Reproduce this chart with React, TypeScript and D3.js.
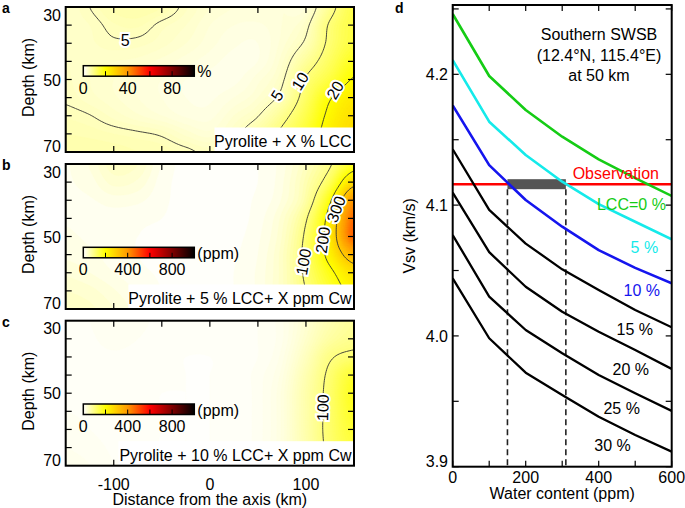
import React, { useMemo } from "react";
import * as d3 from "d3";

// ---------------- Data ----------------
const distanceKm = [-150, -125, -100, -75, -50, -25, 0, 25, 50, 75, 100, 125, 150];
const depthKm = [30, 35, 40, 45, 50, 55, 60, 65, 70];

// Panel a: LCC fraction (%)
const lccPercent = [
  [4.0, 5.0, 6.2, 6.5, 6.0, 4.6, 3.5, 3.0, 3.0, 3.0, 3.0, 8.5, 14.0],
  [4.2, 4.5, 5.4, 5.6, 4.7, 4.0, 3.0, 2.5, 2.4, 3.0, 4.4, 10.5, 14.5],
  [4.3, 4.4, 4.8, 4.7, 4.2, 3.5, 2.7, 2.1, 2.0, 3.2, 5.5, 11.0, 15.0],
  [4.5, 4.2, 4.0, 3.8, 3.3, 2.7, 2.2, 1.8, 2.0, 3.8, 7.8, 12.5, 17.5],
  [4.6, 4.0, 3.5, 3.0, 2.5, 2.0, 1.8, 1.8, 2.8, 4.6, 10.4, 15.0, 20.5],
  [4.8, 4.2, 3.6, 3.0, 2.5, 2.0, 1.9, 2.5, 3.5, 5.8, 12.0, 19.5, 24.0],
  [5.4, 5.05, 4.3, 3.6, 3.0, 2.4, 2.3, 3.5, 4.9, 8.5, 14.0, 21.5, 26.0],
  [6.0, 5.8, 5.5, 5.2, 4.8, 3.8, 3.2, 4.5, 7.0, 11.0, 16.0, 23.0, 27.0],
  [6.5, 6.5, 6.3, 6.0, 5.8, 5.3, 4.8, 6.0, 8.5, 13.0, 18.0, 25.0, 28.0],
];

// Panel b: water content (ppm), pyrolite + 5 % LCC
const waterLcc5 = [
  [15, 25, 45, 40, 15, 5, 5, 5, 8, 20, 50, 95, 170],
  [15, 20, 35, 30, 12, 5, 5, 5, 8, 22, 60, 130, 270],
  [15, 15, 20, 18, 10, 5, 5, 5, 10, 25, 70, 190, 400],
  [15, 12, 12, 10, 8, 5, 5, 5, 12, 35, 95, 230, 460],
  [18, 14, 10, 8, 6, 5, 5, 6, 14, 40, 110, 240, 470],
  [22, 18, 12, 8, 6, 5, 5, 7, 16, 45, 115, 225, 350],
  [30, 24, 16, 10, 7, 5, 5, 8, 18, 45, 110, 185, 260],
  [40, 35, 25, 15, 8, 6, 6, 8, 18, 45, 100, 160, 220],
  [45, 42, 32, 20, 10, 7, 6, 8, 18, 40, 90, 140, 190],
];

// Panel c: water content (ppm), pyrolite + 10 % LCC
const waterLcc10 = [
  [5, 8, 12, 10, 6, 5, 5, 5, 8, 15, 35, 62, 80],
  [5, 7, 10, 8, 5, 5, 5, 5, 8, 15, 40, 72, 88],
  [5, 6, 7, 6, 5, 4, 4, 5, 8, 18, 50, 95, 112],
  [6, 6, 6, 5, 5, 4, 4, 5, 10, 22, 60, 110, 160],
  [7, 6, 5, 5, 4, 4, 4, 5, 10, 25, 65, 115, 175],
  [8, 7, 6, 5, 4, 4, 4, 5, 10, 25, 65, 115, 170],
  [10, 8, 6, 5, 4, 4, 4, 5, 10, 25, 65, 115, 160],
  [12, 10, 7, 5, 4, 4, 4, 5, 10, 25, 62, 112, 150],
  [14, 12, 8, 6, 5, 4, 4, 5, 10, 24, 60, 108, 140],
];

const depthTicks = [30, 50, 70];
const distTicks = [-100, 0, 100];
const cbTicksPct = [0, 40, 80];
const cbTicksPpm = [0, 400, 800];

// Panel d
const waterContent = [0, 100, 200, 300, 400, 500, 600];
const vsvLcc0 = [4.2461, 4.1987, 4.1727, 4.1523, 4.135, 4.1207, 4.107];
const vsvLcc5 = [4.2109, 4.1638, 4.1383, 4.1179, 4.1008, 4.0873, 4.0739];
const vsvLcc10 = [4.1763, 4.1306, 4.1039, 4.0835, 4.0656, 4.052, 4.0402];
const vsvLcc15 = [4.1427, 4.0963, 4.0706, 4.0509, 4.0351, 4.0198, 4.0066];
const vsvLcc20 = [4.1095, 4.064, 4.0376, 4.0185, 4.0032, 3.9892, 3.9747];
const vsvLcc25 = [4.0771, 4.03, 4.0045, 3.9867, 3.9701, 3.9561, 3.9426];
const vsvLcc30 = [4.044, 3.9982, 3.9719, 3.9548, 3.9382, 3.9242, 3.9115];
const curveNames = ["LCC=0 %", "5 %", "10 %", "15 %", "20 %", "25 %", "30 %"];
const observedVsv = 4.116;
const waterRange = [150, 310];
const vsvTicks = [3.9, 4.0, 4.1, 4.2];
const vsvMinorTicks = [3.95, 4.05, 4.15, 4.25];
const waterTicks = [0, 200, 400, 600];
const waterMinorTicks = [100, 300, 500];

// ---------------- Layout / style ----------------
const FONT = "Liberation Sans, Arial, Helvetica, sans-serif";
const PX0 = 65.7;
const PX1 = 354;
const PH = 145;
const FX = 10;
const FY = 10;

const cmap = d3
  .scaleLinear<string>()
  .domain([0, 0.2, 0.4, 0.6, 1])
  .range(["#ffffff", "#ffff00", "#ff9900", "#ff0000", "#000000"])
  .clamp(true);

function upsample(grid: number[][], fx: number, fy: number) {
  const ny = grid.length;
  const nx = grid[0].length;
  const NX = (nx - 1) * fx + 1;
  const NY = (ny - 1) * fy + 1;
  const out = new Array(NX * NY);
  const get = (j: number, i: number) =>
    grid[Math.max(0, Math.min(ny - 1, j))][Math.max(0, Math.min(nx - 1, i))];
  const cr = (p0: number, p1: number, p2: number, p3: number, t: number) =>
    0.5 *
    (2 * p1 +
      (-p0 + p2) * t +
      (2 * p0 - 5 * p1 + 4 * p2 - p3) * t * t +
      (-p0 + 3 * p1 - 3 * p2 + p3) * t * t * t);
  for (let J = 0; J < NY; J++) {
    const j = Math.min(ny - 2, Math.floor(J / fy));
    const ty = J / fy - j;
    for (let I = 0; I < NX; I++) {
      const i = Math.min(nx - 2, Math.floor(I / fx));
      const tx = I / fx - i;
      const r = [-1, 0, 1, 2].map((dj) =>
        cr(get(j + dj, i - 1), get(j + dj, i), get(j + dj, i + 1), get(j + dj, i + 2), tx)
      );
      out[J * NX + I] = Math.max(0, cr(r[0], r[1], r[2], r[3], ty));
    }
  }
  return { values: out as number[], NX, NY };
}

type Lab = { text: string; x: number; d: number; rot: number };

const labelsA: Lab[] = [
  { text: "5", x: -88, d: 39.3, rot: 0 },
  { text: "5", x: 70, d: 54.4, rot: -58 },
  { text: "10", x: 94, d: 50.5, rot: -58 },
  { text: "20", x: 130.5, d: 53, rot: -60 },
];
const labelsB: Lab[] = [
  { text: "100", x: 97.5, d: 57, rot: -80 },
  { text: "200", x: 117.7, d: 51, rot: -82 },
  { text: "300", x: 131.5, d: 42.5, rot: -70 },
];
const labelsC: Lab[] = [{ text: "100", x: 117.7, d: 54, rot: -88 }];

function HeatPanel(props: {
  id: string;
  top: number;
  grid: number[][];
  scaleMax: number;
  step: number;
  levels: number[];
  labels: Lab[];
  letter: string;
  boxText: string;
  boxLeft: number;
  cbTop: number;
  cbTicks: number[];
  cbUnit: string;
  showX: boolean;
}) {
  const { id, top, grid, scaleMax, step, levels, labels, letter, boxText, boxLeft, cbTop, cbTicks, cbUnit, showX } = props;
  const bottom = top + PH;
  const xs = d3.scaleLinear().domain([distanceKm[0], distanceKm[distanceKm.length - 1]]).range([PX0, PX1]);
  const ys = d3.scaleLinear().domain([depthKm[0], depthKm[depthKm.length - 1]]).range([top, bottom]);
  const color = (v: number) => cmap(v / scaleMax);

  const { bands, lines, path } = useMemo(() => {
    const { values, NX, NY } = upsample(grid, FX, FY);
    const dx = (distanceKm[1] - distanceKm[0]) / FX;
    const dd = (depthKm[1] - depthKm[0]) / FY;
    const x0 = distanceKm[0];
    const d0 = depthKm[0];
    const p = d3.geoPath(
      d3.geoTransform({
        point: function (x: number, y: number) {
          const gx = Math.max(0.5, Math.min(NX - 0.5, x));
          const gy = Math.max(0.5, Math.min(NY - 0.5, y));
          (this as any).stream.point(xs(x0 + (gx - 0.5) * dx), ys(d0 + (gy - 0.5) * dd));
        },
      })
    );
    const maxV = d3.max(values) as number;
    const ts = d3.range(step, maxV, step);
    const b = d3.contours().size([NX, NY]).thresholds(ts)(values);
    const l = d3.contours().size([NX, NY]).thresholds(levels)(values);
    return { bands: b, lines: l, path: p };
  }, [grid, top]);

  const cbX0 = 83.3;
  const cbX1 = 194.3;
  const cbY = top + cbTop;
  const cbH = 10.5;
  const cbScale = d3.scaleLinear().domain([0, scaleMax]).range([cbX0, cbX1]);
  const gradStops = [0, 0.2, 0.4, 0.6, 1];

  const yTickVals = d3.range(35, 70, 5);
  const xTickVals = d3.range(-100, 150, 50);

  return (
    <g>
      <defs>
        <clipPath id={`clip-${id}`}>
          <rect x={PX0} y={top} width={PX1 - PX0} height={PH} />
        </clipPath>
        <linearGradient id={`grad-${id}`} x1="0" x2="1" y1="0" y2="0">
          {gradStops.map((s) => (
            <stop key={s} offset={s} stopColor={cmap(s)} />
          ))}
        </linearGradient>
      </defs>
      <g clipPath={`url(#clip-${id})`}>
        <rect x={PX0} y={top} width={PX1 - PX0} height={PH} fill={color(step / 2)} />
        {bands.map((c, i) => (
          <path key={i} d={path(c as any) || ""} fill={color(c.value + step / 2)} stroke={color(c.value + step / 2)} strokeWidth={0.3} />
        ))}
        {lines.map((c, i) => (
          <path key={"l" + i} d={path(c as any) || ""} fill="none" stroke="#333" strokeWidth={0.9} />
        ))}
        {labels.map((lb, i) => (
          <text
            key={"t" + i}
            transform={`translate(${xs(lb.x)},${ys(lb.d)}) rotate(${lb.rot})`}
            textAnchor="middle"
            dominantBaseline="central"
            fontSize={16}
            fontFamily={FONT}
            fill="#000"
            stroke={color(0)}
            strokeWidth={4}
            paintOrder="stroke"
          >
            {lb.text}
          </text>
        ))}
      </g>
      {/* colorbar */}
      <rect x={cbX0} y={cbY} width={cbX1 - cbX0} height={cbH} fill={`url(#grad-${id})`} stroke="#000" strokeWidth={1.5} />
      {[0.2, 0.4, 0.6, 0.8].map((f) => (
        <line key={f} x1={cbScale(f * scaleMax)} x2={cbScale(f * scaleMax)} y1={cbY + cbH} y2={cbY + cbH - 5} stroke="#000" strokeWidth={1} />
      ))}
      {cbTicks.map((t) => (
        <text key={t} x={cbScale(t)} y={cbY + cbH + 17.5} textAnchor="middle" fontSize={16} fontFamily={FONT}>
          {t}
        </text>
      ))}
      <text x={cbX1 + 3} y={cbY + cbH + 1} fontSize={16} fontFamily={FONT}>
        {cbUnit}
      </text>
      {/* ticks */}
      {yTickVals.map((v) => (
        <g key={"y" + v}>
          <line x1={PX0} x2={PX0 + 6} y1={ys(v)} y2={ys(v)} stroke="#000" strokeWidth={1.2} />
          <line x1={PX1} x2={PX1 - 6} y1={ys(v)} y2={ys(v)} stroke="#000" strokeWidth={1.2} />
        </g>
      ))}
      {xTickVals.map((v) => (
        <g key={"x" + v}>
          <line x1={xs(v)} x2={xs(v)} y1={top} y2={top + 6} stroke="#000" strokeWidth={1.2} />
          <line x1={xs(v)} x2={xs(v)} y1={bottom} y2={bottom - 6} stroke="#000" strokeWidth={1.2} />
        </g>
      ))}
      {/* label box (covers ticks beneath it) */}
      <rect x={xs(boxLeft)} y={bottom - 24.5} width={PX1 - xs(boxLeft)} height={24.5} fill="#fff" />
      <text x={PX1 - 2.5} y={bottom - 5} textAnchor="end" fontSize={16} fontFamily={FONT}>
        {boxText}
      </text>
      <rect x={PX0} y={top} width={PX1 - PX0} height={PH} fill="none" stroke="#000" strokeWidth={2} />
      {/* y tick labels */}
      {depthTicks.map((v, i) => {
        const yy = i === 0 ? top + 13.5 : i === depthTicks.length - 1 ? bottom : ys(v) + 6;
        return (
          <text key={"yl" + v} x={61} y={yy} textAnchor="end" fontSize={16} fontFamily={FONT}>
            {v}
          </text>
        );
      })}
      <text
        transform={`translate(34,${(top + bottom) / 2 - 2}) rotate(-90)`}
        textAnchor="middle"
        fontSize={16}
        fontFamily={FONT}
      >
        Depth (km)
      </text>
      <text x={2} y={top + 6} fontSize={14} fontWeight="bold" fontFamily={FONT}>
        {letter}
      </text>
      {showX && (
        <g>
          {distTicks.map((v) => (
            <text key={"xl" + v} x={xs(v)} y={bottom + 24} textAnchor="middle" fontSize={16} fontFamily={FONT}>
              {v}
            </text>
          ))}
          <text x={(PX0 + PX1) / 2} y={bottom + 39.5} textAnchor="middle" fontSize={16} fontFamily={FONT}>
            Distance from the axis (km)
          </text>
        </g>
      )}
    </g>
  );
}

function VsvPanel() {
  const xd = d3.scaleLinear().domain([0, 600]).range([452.7, 671.7]);
  const yd = d3.scaleLinear().domain([3.9, 4.253]).range([466.7, 5]);
  const series = [vsvLcc0, vsvLcc5, vsvLcc10, vsvLcc15, vsvLcc20, vsvLcc25, vsvLcc30];
  const colors = ["#15cc15", "#15eaea", "#1515ee", "#000", "#000", "#000", "#000"];
  const widths = [2.6, 2.6, 2.6, 2.3, 2.3, 2.3, 2.3];
  const labelPos = [
    { x: 584, v: 4.0966 },
    { x: 563, v: 4.0633 },
    { x: 568, v: 4.0305 },
    { x: 549, v: 4.0007 },
    { x: 538, v: 3.9701 },
    { x: 513, v: 3.9403 },
    { x: 488, v: 3.912 },
  ];
  const line = d3
    .line<number>()
    .x((_, i) => xd(waterContent[i]))
    .y((v) => yd(v));
  const [x0, x1] = xd.range();
  const [yb, yt] = yd.range();
  return (
    <g>
      <defs>
        <clipPath id="clip-d">
          <rect x={x0} y={yt} width={x1 - x0} height={yb - yt} />
        </clipPath>
      </defs>
      <g clipPath="url(#clip-d)">
        <line x1={x0} x2={x1} y1={yd(observedVsv)} y2={yd(observedVsv)} stroke="#ff0000" strokeWidth={2.6} />
        <rect
          x={xd(waterRange[0])}
          y={yd(observedVsv) - 5}
          width={xd(waterRange[1]) - xd(waterRange[0])}
          height={10}
          fill="#555"
        />
        {waterRange.map((w) => (
          <line key={w} x1={xd(w)} x2={xd(w)} y1={yd(observedVsv) + 5} y2={yb} stroke="#222" strokeWidth={1.6} strokeDasharray="6,4" />
        ))}
        {series.map((s, i) => (
          <path key={i} d={line(s) || ""} fill="none" stroke={colors[i]} strokeWidth={widths[i]} strokeLinejoin="round" />
        ))}
      </g>
      {series.map((_, i) => (
        <text key={"n" + i} x={xd(labelPos[i].x)} y={yd(labelPos[i].v)} textAnchor="end" fontSize={16} fontFamily={FONT} fill={colors[i]}>
          {curveNames[i]}
        </text>
      ))}
      <text x={xd(565)} y={yd(4.12)} textAnchor="end" fontSize={16} fontFamily={FONT} fill="#ff0000">
        Observation
      </text>
      <g fontSize={16} fontFamily={FONT} textAnchor="middle">
        <text x={599} y={40}>Southern SWSB</text>
        <text x={599} y={61}>(12.4°N, 115.4°E)</text>
        <text x={599} y={81}>at 50 km</text>
      </g>
      {/* ticks */}
      {[...vsvTicks, ...vsvMinorTicks].map((v) => (
        <g key={"vt" + v}>
          <line x1={x0} x2={x0 + 6} y1={yd(v)} y2={yd(v)} stroke="#000" strokeWidth={1.2} />
          <line x1={x1} x2={x1 - 6} y1={yd(v)} y2={yd(v)} stroke="#000" strokeWidth={1.2} />
        </g>
      ))}
      {[...waterTicks, ...waterMinorTicks].map((v) => (
        <g key={"wt" + v}>
          <line x1={xd(v)} x2={xd(v)} y1={yb} y2={yb - 6} stroke="#000" strokeWidth={1.2} />
          <line x1={xd(v)} x2={xd(v)} y1={yt} y2={yt + 6} stroke="#000" strokeWidth={1.2} />
        </g>
      ))}
      <rect x={x0} y={yt} width={x1 - x0} height={yb - yt} fill="none" stroke="#000" strokeWidth={2} />
      {vsvTicks.map((v, i) => (
        <text key={"vl" + v} x={448} y={i === 0 ? yb : yd(v) + 6} textAnchor="end" fontSize={16} fontFamily={FONT}>
          {v.toFixed(1)}
        </text>
      ))}
      {waterTicks.map((v) => (
        <text key={"wl" + v} x={xd(v)} y={483} textAnchor="middle" fontSize={16} fontFamily={FONT}>
          {v}
        </text>
      ))}
      <text x={(x0 + x1) / 2} y={499} textAnchor="middle" fontSize={16} fontFamily={FONT}>
        Water content (ppm)
      </text>
      <text transform={`translate(415,${(yb + yt) / 2}) rotate(-90)`} textAnchor="middle" fontSize={16} fontFamily={FONT}>
        Vsv (km/s)
      </text>
      <text x={395} y={13} fontSize={14} fontWeight="bold" fontFamily={FONT}>
        d
      </text>
    </g>
  );
}

export default function App() {
  return (
    <svg
      width={685}
      height={508}
      viewBox="0 0 685 508"
      style={{ position: "absolute", left: 0, top: 0, background: "#fff" }}
      fontFamily={FONT}
    >
      <rect x={0} y={0} width={685} height={508} fill="#fff" />
      <HeatPanel
        id="a"
        top={7}
        grid={lccPercent}
        scaleMax={100}
        step={0.5}
        levels={[5, 10, 20]}
        labels={labelsA}
        letter="a"
        boxText="Pyrolite + X % LCC"
        boxLeft={4.8}
        cbTop={58.7}
        cbTicks={cbTicksPct}
        cbUnit="%"
        showX={false}
      />
      <HeatPanel
        id="b"
        top={164}
        grid={waterLcc5}
        scaleMax={1000}
        step={8}
        levels={[100, 200, 300]}
        labels={labelsB}
        letter="b"
        boxText="Pyrolite + 5 % LCC+ X ppm Cw"
        boxLeft={-84.8}
        cbTop={83.3}
        cbTicks={cbTicksPpm}
        cbUnit="(ppm)"
        showX={false}
      />
      <HeatPanel
        id="c"
        top={320.7}
        grid={waterLcc10}
        scaleMax={1000}
        step={4}
        levels={[100]}
        labels={labelsC}
        letter="c"
        boxText="Pyrolite + 10 % LCC+ X ppm Cw"
        boxLeft={-95.2}
        cbTop={83.3}
        cbTicks={cbTicksPpm}
        cbUnit="(ppm)"
        showX={true}
      />
      <VsvPanel />
    </svg>
  );
}
